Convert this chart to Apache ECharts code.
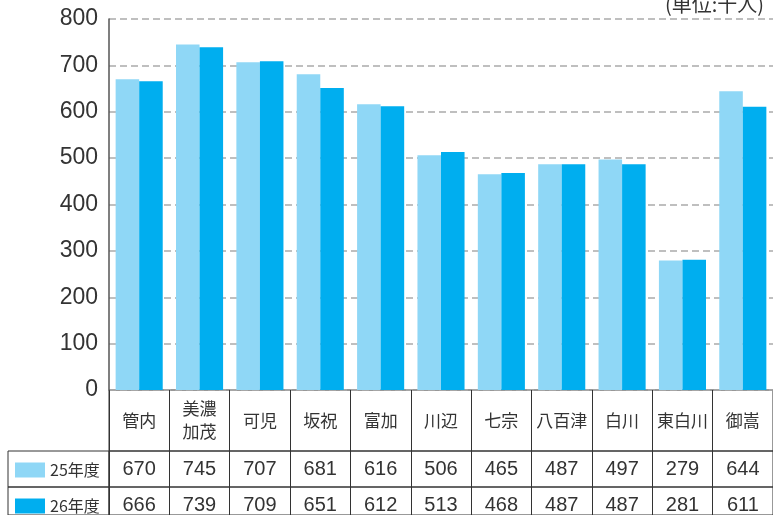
<!DOCTYPE html>
<html>
<head>
<meta charset="utf-8">
<script src="https://cdn.jsdelivr.net/npm/echarts@6/dist/echarts.min.js"></script>
<style>
html, body { margin: 0; padding: 0; background: #fff; }
#main { width: 773px; height: 515px; }
</style>
</head>
<body>
<div id="main"></div>
<script>
var areas = ['管内', '美濃\n加茂', '可児', '坂祝', '富加', '川辺', '七宗', '八百津', '白川', '東白川', '御嵩'];
var years = ['25年度', '26年度'];
var values25 = [670, 745, 707, 681, 616, 506, 465, 487, 497, 279, 644];
var values26 = [666, 739, 709, 651, 612, 513, 468, 487, 487, 281, 611];
var yTicks = [0, 100, 200, 300, 400, 500, 600, 700, 800];

var colors = ['#8fd7f6', '#00aeef'];
var lineColor = '#333';
var numFont = "'Liberation Sans', Arial, sans-serif";
var jpFont = "'Noto Sans CJK JP', sans-serif";

var chartDom = document.getElementById('main');
var myChart = echarts.init(chartDom);

// table rows are extra grids sharing the category axis width
function rowGrid(top, height) {
    return {
        left: 109, top: top, width: 665, height: height,
        show: true, borderColor: lineColor, borderWidth: 1, containLabel: false
    };
}
function cellGrid(top, height) {
    return {
        left: 8, top: top, width: 101, height: height,
        show: true, borderColor: lineColor, borderWidth: 1, containLabel: false
    };
}
function rowAxis(idx, formatter) {
    return {
        type: 'category',
        gridIndex: idx,
        data: areas,
        position: 'top',
        axisLine: { show: false },
        axisTick: { show: false },
        splitLine: { show: true, interval: 0, lineStyle: { color: lineColor, width: 1 } },
        axisLabel: {
            interval: 0,
            margin: idx === 1 ? -30.5 : -18,
            verticalAlign: 'middle',
            color: '#333',
            fontSize: idx === 1 ? 17 : 20,
            fontFamily: idx === 1 ? jpFont : numFont,
            lineHeight: 23,
            formatter: formatter
        }
    };
}
function hiddenAxis(idx, type) {
    return { type: type, gridIndex: idx, show: false };
}

var option = {
    backgroundColor: '#fff',
    animation: false,
    title: {
        text: '(単位:千人)',
        right: 4,
        top: -11,
        textStyle: { fontSize: 20, fontWeight: 'normal', color: '#333', fontFamily: jpFont }
    },
    legend: {
        data: years,
        orient: 'vertical',
        left: 15,
        top: 462,
        padding: 0,
        itemWidth: 30,
        itemHeight: 15,
        itemGap: 20,
        icon: 'rect',
        selectedMode: false,
        textStyle: { fontSize: 16, color: '#333', fontFamily: jpFont, lineHeight: 15 }
    },
    grid: [
        { left: 109, top: 19, width: 665, height: 371, containLabel: false },
        rowGrid(390, 61),
        rowGrid(451, 36),
        rowGrid(487, 36),
        cellGrid(451, 36),
        cellGrid(487, 36)
    ],
    xAxis: [
        {
            type: 'category',
            gridIndex: 0,
            data: areas,
            axisLine: { show: false },
            axisTick: { show: false },
            axisLabel: { show: false }
        },
        rowAxis(1, function (v) { return v; }),
        rowAxis(2, function (v, i) { return String(values25[i]); }),
        rowAxis(3, function (v, i) { return String(values26[i]); }),
        hiddenAxis(4, 'value'),
        hiddenAxis(5, 'value')
    ],
    yAxis: [
        {
            type: 'value',
            gridIndex: 0,
            min: yTicks[0],
            max: yTicks[yTicks.length - 1],
            interval: 100,
            axisLine: { show: true, lineStyle: { color: '#555', width: 1.5 } },
            axisTick: { show: false },
            axisLabel: { margin: 11, color: '#333', fontSize: 23, fontFamily: numFont },
            splitLine: { show: true, lineStyle: { color: '#aaa', width: 1.5, type: [7, 4] } }
        },
        hiddenAxis(1, 'value'),
        hiddenAxis(2, 'value'),
        hiddenAxis(3, 'value'),
        hiddenAxis(4, 'value'),
        hiddenAxis(5, 'value')
    ],
    series: [
        {
            name: years[0],
            type: 'bar',
            xAxisIndex: 0,
            yAxisIndex: 0,
            data: values25,
            barGap: '0%',
            barCategoryGap: '22%',
            itemStyle: { color: colors[0] }
        },
        {
            name: years[1],
            type: 'bar',
            xAxisIndex: 0,
            yAxisIndex: 0,
            data: values26,
            barGap: '0%',
            barCategoryGap: '22%',
            itemStyle: { color: colors[1] }
        }
    ]
};

option && myChart.setOption(option);
</script>
</body>
</html>
